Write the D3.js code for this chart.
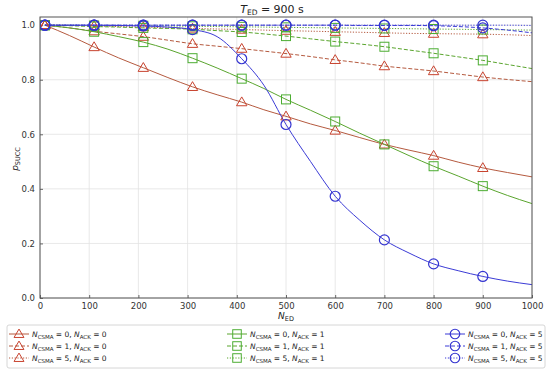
<!DOCTYPE html>
<html>
<head>
<meta charset="utf-8">
<script src="https://cdn.jsdelivr.net/npm/d3@7"></script>
<style>
	body { margin: 0; background: #fff; }
	svg { font-family: "DejaVu Sans", sans-serif; }
</style>
</head>
<body>
<svg id="chart" width="550" height="371"></svg>
<script>
// number of end devices (shared x grid)
const nED = [10, 60, 110, 160, 210, 260, 310, 360, 410, 455, 500, 550, 600, 650, 700, 750, 800, 850, 900, 950, 1000];
const markAt = [10, 110, 210, 310, 410, 500, 600, 700, 800, 900];

// N_ACK = 0
const ack0csma0 = [1.0, 0.962, 0.92, 0.88, 0.844, 0.808, 0.774, 0.745, 0.718, 0.69, 0.666, 0.638, 0.614, 0.588, 0.563, 0.542, 0.522, 0.498, 0.477, 0.46, 0.444];
const ack0csma1 = [1.0, 0.99, 0.978, 0.968, 0.958, 0.945, 0.932, 0.923, 0.914, 0.905, 0.896, 0.885, 0.873, 0.862, 0.85, 0.841, 0.832, 0.821, 0.81, 0.801, 0.793];
const ack0csma5 = [1.0, 0.999, 0.997, 0.995, 0.993, 0.99, 0.988, 0.986, 0.984, 0.982, 0.98, 0.978, 0.976, 0.974, 0.972, 0.97, 0.969, 0.968, 0.967, 0.965, 0.962];
// N_ACK = 1
const ack1csma0 = [1.0, 0.99, 0.976, 0.958, 0.938, 0.912, 0.879, 0.843, 0.804, 0.768, 0.728, 0.688, 0.647, 0.604, 0.563, 0.522, 0.483, 0.447, 0.41, 0.376, 0.346];
const ack1csma1 = [1.0, 0.998, 0.995, 0.993, 0.99, 0.988, 0.985, 0.98, 0.975, 0.968, 0.96, 0.95, 0.94, 0.931, 0.921, 0.909, 0.897, 0.884, 0.871, 0.856, 0.841];
const ack1csma5 = [1.0, 1.0, 0.999, 0.999, 0.998, 0.997, 0.996, 0.995, 0.994, 0.993, 0.992, 0.991, 0.99, 0.989, 0.988, 0.987, 0.986, 0.985, 0.984, 0.983, 0.982];
// N_ACK = 5
const ack5csma0 = [1.0, 1.0, 1.0, 0.999, 0.997, 0.993, 0.984, 0.958, 0.877, 0.78, 0.636, 0.5, 0.373, 0.285, 0.213, 0.165, 0.125, 0.1, 0.079, 0.062, 0.049];
const ack5csma1 = [1.0, 1.0, 1.0, 1.0, 1.0, 1.0, 1.0, 1.0, 1.0, 1.0, 1.0, 1.0, 1.0, 0.999, 0.999, 0.999, 0.998, 0.995, 0.99, 0.982, 0.972];
const ack5csma5 = [1.0, 1.0, 1.0, 1.0, 1.0, 1.0, 1.0, 1.0, 1.0, 1.0, 1.0, 1.0, 1.0, 1.0, 1.0, 1.0, 1.0, 1.0, 1.0, 1.0, 0.999];

const xTicks = [0, 100, 200, 300, 400, 500, 600, 700, 800, 900, 1000];
const yTicks = [0.0, 0.2, 0.4, 0.6, 0.8, 1.0];

const colors = { red: "#c8432f", green: "#4cad32", blue: "#3434d0" };
const lineCol = { red: "#b55a3f", green: "#5aa52e", blue: "#3b3bd6" };
const dashes = { 0: null, 1: "4,2", 5: "1.2,1.6" };

const series = [
	{ csma: 0, ack: 0, c: "red", m: "tri", v: ack0csma0 },
	{ csma: 1, ack: 0, c: "red", m: "tri", v: ack0csma1 },
	{ csma: 5, ack: 0, c: "red", m: "tri", v: ack0csma5 },
	{ csma: 0, ack: 1, c: "green", m: "sq", v: ack1csma0 },
	{ csma: 1, ack: 1, c: "green", m: "sq", v: ack1csma1 },
	{ csma: 5, ack: 1, c: "green", m: "sq", v: ack1csma5 },
	{ csma: 0, ack: 5, c: "blue", m: "circ", v: ack5csma0 },
	{ csma: 1, ack: 5, c: "blue", m: "circ", v: ack5csma1 },
	{ csma: 5, ack: 5, c: "blue", m: "circ", v: ack5csma5 }
];

const svg = d3.select("#chart");
const pLeft = 40, pRight = 532, pTop = 17, pBottom = 298;
const x = d3.scaleLinear().domain([0, 1000]).range([pLeft, pRight]);
const y = d3.scaleLinear().domain([0, 1.03]).range([pBottom, pTop]);

// grid
svg.append("g").selectAll("line").data(xTicks).enter().append("line")
	.attr("x1", d => x(d)).attr("x2", d => x(d)).attr("y1", pTop).attr("y2", pBottom)
	.attr("stroke", "#e2e2e2").attr("stroke-width", 0.8);
svg.append("g").selectAll("line").data(yTicks).enter().append("line")
	.attr("x1", pLeft).attr("x2", pRight).attr("y1", d => y(d)).attr("y2", d => y(d))
	.attr("stroke", "#e2e2e2").attr("stroke-width", 0.8);

// axes
const xAxis = svg.append("g").attr("transform", `translate(0,${pBottom})`)
	.call(d3.axisBottom(x).tickValues(xTicks).tickSize(-3).tickPadding(5).tickFormat(d3.format("d")));
const yAxis = svg.append("g").attr("transform", `translate(${pLeft},0)`)
	.call(d3.axisLeft(y).tickValues(yTicks).tickSize(-3).tickPadding(5).tickFormat(d3.format(".1f")));
[xAxis, yAxis].forEach(a => {
	a.select(".domain").remove();
	a.selectAll("text").attr("font-size", 8.5).attr("fill", "#333").attr("font-family", "DejaVu Sans");
	a.selectAll("line").attr("stroke", "#444").attr("stroke-width", 0.8);
});

svg.append("clipPath").attr("id", "clip").append("rect")
	.attr("x", pLeft).attr("y", pTop - 2).attr("width", pRight - pLeft).attr("height", pBottom - pTop + 2);

function drawMarker(g, type, cx, cy, col, k) {
	k = k || 1;
	if (type === "tri") {
		const s = 5.2 * k;
		g.append("path").attr("d", `M${cx},${cy - s} L${cx + s},${cy + s * 0.7} L${cx - s},${cy + s * 0.7} Z`)
			.attr("fill", "none").attr("stroke", col).attr("stroke-width", 1);
	} else if (type === "sq") {
		const h = 4.5 * k;
		g.append("rect").attr("x", cx - h).attr("y", cy - h).attr("width", 2 * h).attr("height", 2 * h)
			.attr("fill", "none").attr("stroke", col).attr("stroke-width", 1);
	} else {
		g.append("circle").attr("cx", cx).attr("cy", cy).attr("r", 5 * k)
			.attr("fill", "none").attr("stroke", col).attr("stroke-width", 1.2);
	}
}

const line = d3.line().x(d => x(d[0])).y(d => y(d[1])).curve(d3.curveMonotoneX);
const plot = svg.append("g").attr("clip-path", "url(#clip)");

series.forEach(s => {
	const pts = nED.map((n, i) => [n, s.v[i]]);
	plot.append("path").datum(pts).attr("d", line)
		.attr("fill", "none").attr("stroke", lineCol[s.c]).attr("stroke-width", 1)
		.attr("stroke-dasharray", dashes[s.csma]);
});
series.forEach(s => {
	nED.forEach((n, i) => {
		if (markAt.includes(n)) drawMarker(plot, s.m, x(n), y(s.v[i]), colors[s.c]);
	});
});

// frame
svg.append("rect").attr("x", pLeft).attr("y", pTop).attr("width", pRight - pLeft).attr("height", pBottom - pTop)
	.attr("fill", "none").attr("stroke", "#555").attr("stroke-width", 1);

// title and labels
const title = svg.append("text").attr("x", 272).attr("y", 13).attr("text-anchor", "middle").attr("font-size", 11).attr("fill", "#222");
title.append("tspan").attr("font-style", "italic").text("T");
title.append("tspan").attr("font-size", 7.5).attr("dy", 2).text("ED");
title.append("tspan").attr("dy", -2).text(" = 900 s");

const xl = svg.append("text").attr("x", 286).attr("y", 319).attr("text-anchor", "middle").attr("font-size", 9).attr("fill", "#222");
xl.append("tspan").attr("font-style", "italic").text("N");
xl.append("tspan").attr("font-size", 6.5).attr("dy", 2).text("ED");

const yl = svg.append("text").attr("transform", "translate(18,159) rotate(-90)").attr("text-anchor", "middle").attr("font-size", 9).attr("fill", "#222");
yl.append("tspan").attr("font-style", "italic").text("p");
yl.append("tspan").attr("font-size", 6.5).attr("dy", 2).text("SUCC");

// legend
svg.append("rect").attr("x", 7).attr("y", 325).attr("width", 538).attr("height", 43).attr("rx", 2)
	.attr("fill", "#fff").attr("stroke", "#ccc").attr("stroke-width", 0.8);
const colX = { red: 19, green: 237, blue: 455 };
const rowY = { 0: 334, 1: 346, 5: 358 };
series.forEach(s => {
	const cx = colX[s.c], cy = rowY[s.csma];
	const g = svg.append("g");
	g.append("line").attr("x1", cx - 10).attr("x2", cx + 10).attr("y1", cy).attr("y2", cy)
		.attr("stroke", lineCol[s.c]).attr("stroke-width", 1).attr("stroke-dasharray", dashes[s.csma]);
	drawMarker(g, s.m, cx, cy, colors[s.c], 0.95);
	const t = g.append("text").attr("x", cx + 13).attr("y", cy + 3).attr("font-size", 7.5).attr("fill", "#222");
	t.append("tspan").attr("font-style", "italic").text("N");
	t.append("tspan").attr("font-size", 5.5).attr("dy", 1.8).text("CSMA");
	t.append("tspan").attr("dy", -1.8).text(" = " + s.csma + ", ");
	t.append("tspan").attr("font-style", "italic").text("N");
	t.append("tspan").attr("font-size", 5.5).attr("dy", 1.8).text("ACK");
	t.append("tspan").attr("dy", -1.8).text(" = " + s.ack);
});
</script>
</body>
</html>
